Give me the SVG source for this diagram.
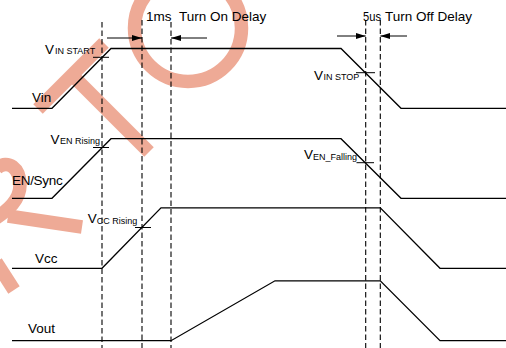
<svg xmlns="http://www.w3.org/2000/svg" width="506" height="348" viewBox="0 0 506 348">
<style>
.wm{fill:none;stroke:#EEAA96;stroke-width:13.5}
.wave{fill:none;stroke:#000;stroke-width:1.3;stroke-linejoin:miter}
.dash{fill:none;stroke:#000;stroke-width:1.1;stroke-dasharray:5.5,3}
.tick{fill:none;stroke:#000;stroke-width:1}
.arr{fill:none;stroke:#000;stroke-width:1}
text{font-family:"Liberation Sans",Arial,sans-serif;fill:#000}
.lbl{font-size:13.5px}
.big{font-size:13.5px}
.v{font-size:13.5px}
.sub{font-size:9px}
</style>
<defs>
<marker id="ah" viewBox="0 0 10 6" refX="10" refY="3" markerWidth="10" markerHeight="6" markerUnits="userSpaceOnUse" orient="auto">
<path d="M0,0 L10,3 L0,6 Z" fill="#000"/>
</marker>
</defs>
<rect width="506" height="348" fill="#fff"/>
<g id="watermark">
<circle class="wm" cx="188" cy="28" r="53.5"/>
<line class="wm" x1="38" y1="109" x2="104" y2="43"/>
<line class="wm" x1="72" y1="75" x2="149" y2="152"/>
<path class="wm" d="M-3,168 C8,159 20,168 20,185 C20,200 8,210 -4,218"/>
<line class="wm" x1="8" y1="216" x2="82" y2="227" stroke-width="12.5"/>
<line class="wm" x1="-4" y1="262" x2="14" y2="290"/>
</g>
<g id="connectors">
<line class="dash" x1="102" y1="22" x2="102" y2="348"/>
<line class="dash" x1="142" y1="20" x2="142" y2="348"/>
<line class="dash" x1="171" y1="22" x2="171" y2="348"/>
<line class="dash" x1="365.7" y1="20" x2="365.7" y2="348"/>
<line class="dash" x1="380.3" y1="20" x2="380.3" y2="348"/>
<line class="arr" x1="107" y1="38" x2="142" y2="38" marker-end="url(#ah)"/>
<line class="arr" x1="207" y1="38" x2="171" y2="38" marker-end="url(#ah)"/>
<line class="arr" x1="337" y1="36" x2="365.7" y2="36" marker-end="url(#ah)"/>
<line class="arr" x1="407" y1="36" x2="380.3" y2="36" marker-end="url(#ah)"/>
</g>
<g id="delay-labels">
<text class="big" x="146" y="21">1ms</text>
<text class="big" x="179" y="21">Turn On Delay</text>
<text class="big" x="363" y="20.5" textLength="18" lengthAdjust="spacingAndGlyphs">5us</text>
<text class="big" x="385" y="20.5">Turn Off Delay</text>
</g>
<g id="vin">
<polyline class="wave" points="12,108.3 52,108.3 111,48.5 341,48.5 401,108.3 506,108.3"/>
<line class="tick" x1="93" y1="57.3" x2="109" y2="57.3"/>
<line class="tick" x1="356" y1="72.7" x2="375" y2="72.7"/>
<text class="lbl" x="32" y="101.7">Vin</text>
<text x="45" y="53.5"><tspan class="v">V</tspan><tspan class="sub" dx="1" dy="0.5">IN START</tspan></text>
<text x="314" y="79.5"><tspan class="v" font-size="12.5">V</tspan><tspan class="sub" dx="0.5" dy="0.5">IN STOP</tspan></text>
</g>
<g id="en-sync">
<polyline class="wave" points="12,198.3 52,198.3 111,138.7 341,138.7 401,198.3 506,198.3"/>
<line class="tick" x1="93" y1="147.5" x2="109" y2="147.5"/>
<line class="tick" x1="356.5" y1="162.7" x2="374" y2="162.7"/>
<text class="lbl" x="12" y="185" letter-spacing="-0.3">EN/Sync</text>
<text x="50.5" y="144.3"><tspan class="v">V</tspan><tspan class="sub" dx="0.5" dy="0">EN Rising</tspan></text>
<text x="304" y="159.3"><tspan class="v">V</tspan><tspan class="sub" dx="0" dy="1">EN_Falling</tspan></text>
</g>
<g id="vcc">
<polyline class="wave" points="12,268.3 102,268.3 161,207.8 380.3,207.8 440,268.3 506,268.3"/>
<line class="tick" x1="135" y1="227.5" x2="151" y2="227.5"/>
<text class="lbl" x="35" y="262.7">Vcc</text>
<text x="87.7" y="223.3"><tspan class="v">V</tspan><tspan class="sub" dx="0" dy="0.5">CC Rising</tspan></text>
</g>
<g id="vout">
<polyline class="wave" points="12,340.7 171,340.7 275,280.8 380.3,280.8 440,340.7 506,340.7"/>
<text class="lbl" x="28" y="333.3">Vout</text>
</g>
</svg>
